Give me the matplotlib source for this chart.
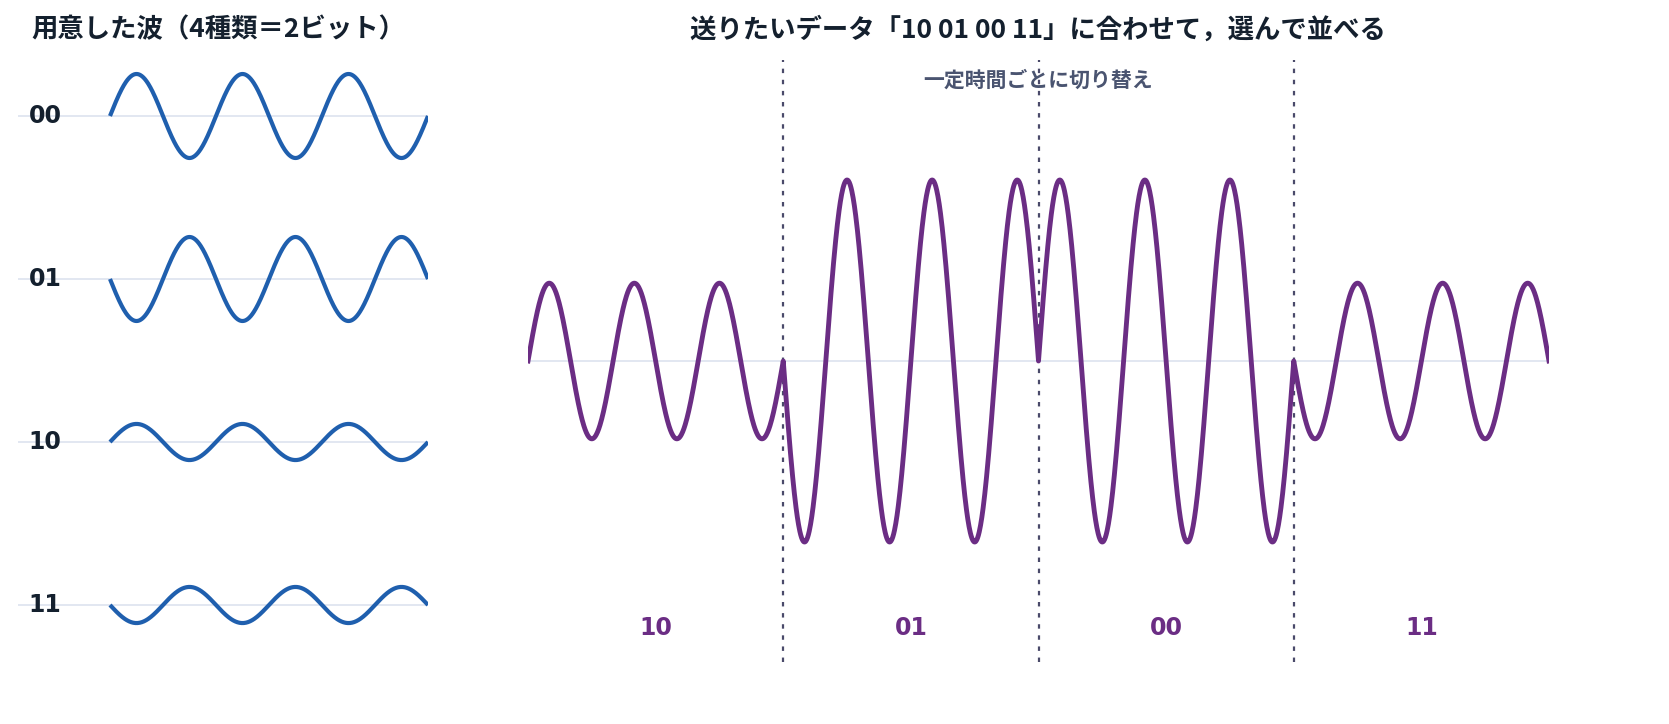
import numpy as np
import matplotlib
matplotlib.use("Agg")
import matplotlib.pyplot as plt

plt.rcParams['font.family'] = ['Noto Sans CJK JP', 'DejaVu Sans']

codes = ["00", "01", "10", "11"]
amps = [1.0, 1.0, 0.43, 0.43]
signs = [1, -1, 1, -1]
sequence = ["10", "01", "00", "11"]
cycles = 3

W, H = 1669, 724
fig = plt.figure(figsize=(W/100, H/100), dpi=100)
blue = "#1f5fae"; purple = "#6b2d84"; grid = "#dde3ef"; dark = "#14202e"

# left panels
t = np.linspace(0, cycles, 600)
for i, c in enumerate(codes):
    yc = 116 + 163*i
    ax = fig.add_axes([18/W, 1-(yc+81.5)/H, (428-18)/W, 163/H])
    ax.set_xlim(-(110-18)/318*3, 3); ax.set_ylim(-81.5/42, 81.5/42)
    ax.axhline(0, color=grid, lw=1.2, zorder=1)
    ax.plot(t, signs[i]*amps[i]*np.sin(2*np.pi*t), color=blue, lw=3, zorder=2, solid_capstyle='butt')
    ax.text((45-110)/318*3, 0, c, ha='center', va='center', fontsize=17, fontweight='bold',
            color=dark, family='DejaVu Sans')
    ax.axis('off')

# right panel
ax = fig.add_axes([528/W, 1-662/H, (1549-528)/W, 602/H])
ax.set_xlim(0, 12); ax.set_ylim(-1.663, 1.663)
ax.axhline(0, color=grid, lw=1.2, zorder=1)
xs, ys = [], []
for k, c in enumerate(sequence):
    i = codes.index(c)
    tt = np.linspace(0, cycles, 600)
    xs.append(tt + k*cycles); ys.append(signs[i]*amps[i]*np.sin(2*np.pi*tt))
    ax.text(k*cycles + 1.5, -1.475, c, ha='center', va='center', fontsize=17, fontweight='bold',
            color=purple, family='DejaVu Sans')
ax.plot(np.concatenate(xs), np.concatenate(ys), color=purple, lw=3.5, zorder=3)
for k in range(1, 4):
    ax.axvline(k*cycles, color="#4a4a6a", lw=1.6, ls=(0, (2, 3)), zorder=2)
ax.text(6, 1.552, "一定時間ごとに切り替え", ha='center', va='center', fontsize=15, fontweight='bold', color="#4a5470")
ax.axis('off')

fig.text(218/W, 1-30/H, "用意した波（4種類＝2ビット）", ha='center', va='center', fontsize=19, fontweight='bold', color=dark)
fig.text(1038/W, 1-30/H, "送りたいデータ「10 01 00 11」に合わせて，選んで並べる", ha='center', va='center', fontsize=19, fontweight='bold', color=dark)

fig.savefig("out.png", dpi=100, facecolor='white')
